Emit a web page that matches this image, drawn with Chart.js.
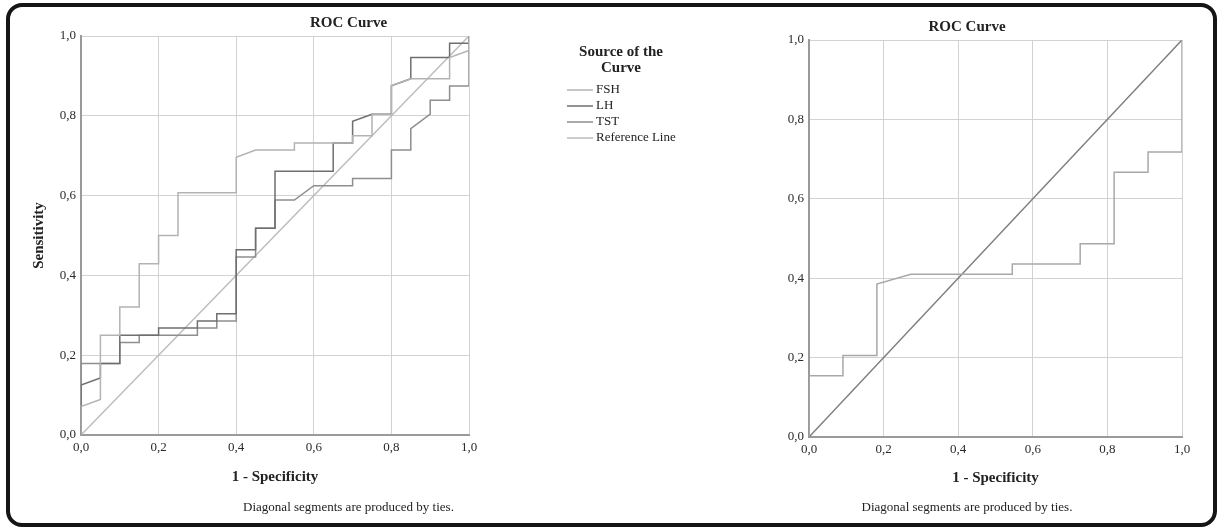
<!DOCTYPE html>
<html>
<head>
<meta charset="utf-8">
<script src="https://cdn.jsdelivr.net/npm/chart.js@4"></script>
<style>
    body { margin: 0; background: #fff; }
    #wrap { position: relative; width: 1217px; height: 527px; overflow: hidden; }
    #frame {
        position: absolute; left: 6px; top: 3px; width: 1211px; height: 524px;
        border: 4px solid #151515; border-radius: 16px; box-sizing: border-box;
    }
    #leftChart { position: absolute; left: 0; top: 0; }
    #rightChart { position: absolute; left: 717px; top: 0; }
</style>
</head>
<body>
<div id="wrap">
    <div id="frame"></div>
    <canvas id="leftChart" width="697" height="527"></canvas>
    <canvas id="rightChart" width="500" height="527"></canvas>
</div>
<script>
// tick labels (SPSS style, comma decimal)
const tickLabels = ['0,0', '0,2', '0,4', '0,6', '0,8', '1,0'];

// left panel: FSH, LH, TST
const fshX = [0, 0, 0.05, 0.05, 0.1, 0.1, 0.15, 0.15, 0.2, 0.2, 0.25, 0.25, 0.4, 0.4, 0.45, 0.55, 0.55, 0.7, 0.7, 0.75, 0.75, 0.8, 0.8, 0.85, 0.95, 0.95, 1, 1];
const fshY = [0, 0.071, 0.089, 0.25, 0.25, 0.321, 0.321, 0.429, 0.429, 0.5, 0.5, 0.607, 0.607, 0.696, 0.714, 0.714, 0.732, 0.732, 0.75, 0.75, 0.804, 0.804, 0.875, 0.893, 0.893, 0.946, 0.964, 1];

const lhX = [0, 0, 0.05, 0.05, 0.1, 0.1, 0.2, 0.2, 0.3, 0.3, 0.35, 0.35, 0.4, 0.4, 0.45, 0.45, 0.5, 0.5, 0.65, 0.65, 0.7, 0.7, 0.75, 0.8, 0.8, 0.85, 0.85, 0.95, 0.95, 1, 1];
const lhY = [0, 0.125, 0.143, 0.179, 0.179, 0.25, 0.25, 0.268, 0.268, 0.286, 0.286, 0.304, 0.304, 0.464, 0.464, 0.518, 0.518, 0.661, 0.661, 0.732, 0.732, 0.786, 0.804, 0.804, 0.875, 0.893, 0.946, 0.946, 0.982, 0.982, 1];

const tstX = [0, 0, 0.1, 0.1, 0.15, 0.15, 0.3, 0.3, 0.35, 0.35, 0.4, 0.4, 0.45, 0.45, 0.5, 0.5, 0.55, 0.6, 0.7, 0.7, 0.8, 0.8, 0.85, 0.85, 0.9, 0.9, 0.95, 0.95, 1, 1];
const tstY = [0, 0.179, 0.179, 0.232, 0.232, 0.25, 0.25, 0.268, 0.268, 0.286, 0.286, 0.446, 0.446, 0.518, 0.518, 0.589, 0.589, 0.625, 0.625, 0.643, 0.643, 0.714, 0.714, 0.768, 0.804, 0.839, 0.839, 0.875, 0.875, 1];

const refX = [0, 1];
const refY = [0, 1];

// right panel: single curve
const rightX = [0, 0, 0.091, 0.091, 0.182, 0.182, 0.273, 0.545, 0.545, 0.727, 0.727, 0.818, 0.818, 0.909, 0.909, 1, 1];
const rightY = [0, 0.154, 0.154, 0.205, 0.205, 0.385, 0.41, 0.41, 0.436, 0.436, 0.487, 0.487, 0.667, 0.667, 0.718, 0.718, 1];

const FONT = '"Liberation Serif", "DejaVu Serif", serif';

function toPoints(xs, ys) {
    return xs.map((x, i) => ({ x: x, y: ys[i] }));
}

function lineSet(label, xs, ys, color) {
    return {
        label: label,
        data: toPoints(xs, ys),
        showLine: true,
        borderColor: color,
        backgroundColor: color,
        borderWidth: 1.5,
        pointRadius: 0,
        tension: 0
    };
}

// title, footnote and (optionally) legend drawn as text on the canvas
const panelText = {
    id: 'panelText',
    afterDraw(chart, args, opts) {
        const ctx = chart.ctx;
        const cx = chart.width / 2;
        ctx.save();
        ctx.fillStyle = '#222';
        ctx.textAlign = 'center';
        ctx.textBaseline = 'middle';
        ctx.font = 'bold 15px ' + FONT;
        ctx.fillText(opts.title, cx, opts.titleY);
        ctx.font = '13px ' + FONT;
        ctx.fillText(opts.note, cx, opts.noteY);

        if (opts.legend) {
            const lg = opts.legend;
            ctx.font = 'bold 15px ' + FONT;
            lg.title.forEach((t, i) => ctx.fillText(t, lg.titleX, lg.titleY + i * 16));
            ctx.font = '13px ' + FONT;
            ctx.textAlign = 'left';
            chart.data.datasets.forEach((ds, i) => {
                const y = lg.itemY + i * 16;
                ctx.strokeStyle = ds.borderColor;
                ctx.lineWidth = 1.5;
                ctx.beginPath();
                ctx.moveTo(lg.lineX, y);
                ctx.lineTo(lg.lineX + 26, y);
                ctx.stroke();
                ctx.fillText(ds.label, lg.lineX + 29, y);
            });
        }
        ctx.restore();
    }
};

function axisOptions(opts) {
    return {
        type: 'linear',
        min: 0,
        max: 1,
        afterFit: opts.fit,
        border: { display: true, color: '#9a9a9a', width: 2 },
        grid: { color: '#d2d2d2', lineWidth: 1, drawTicks: false },
        ticks: {
            stepSize: 0.2,
            padding: 5,
            color: '#2a2a2a',
            font: { family: FONT, size: 13 },
            callback: (v) => tickLabels[Math.round(v * 5)]
        },
        title: opts.title
    };
}

function initLeftChart() {
    const ctx = document.getElementById('leftChart');
    new Chart(ctx, {
        type: 'scatter',
        data: {
            datasets: [
                lineSet('FSH', fshX, fshY, '#b3b3b3'),
                lineSet('LH', lhX, lhY, '#6f6f6f'),
                lineSet('TST', tstX, tstY, '#8e8e8e'),
                lineSet('Reference Line', refX, refY, '#bcbcbc')
            ]
        },
        plugins: [panelText],
        options: {
            responsive: false,
            animation: false,
            layout: { padding: { left: 6, top: 36, right: 228, bottom: 0 } },
            plugins: {
                legend: { display: false },
                tooltip: { enabled: false },
                panelText: {
                    title: 'ROC Curve',
                    titleY: 23,
                    note: 'Diagonal segments are produced by ties.',
                    noteY: 508,
                    legend: {
                        title: ['Source of the', 'Curve'],
                        titleX: 621,
                        titleY: 52,
                        lineX: 567,
                        itemY: 90
                    }
                }
            },
            scales: {
                x: axisOptions({
                    fit: (s) => { s.height = 92; },
                    title: {
                        display: true,
                        text: '1 - Specificity',
                        color: '#222',
                        font: { family: FONT, size: 15, weight: 'bold' },
                        padding: { top: 0, bottom: 41 }
                    }
                }),
                y: axisOptions({
                    fit: (s) => { s.width = 75; },
                    title: {
                        display: true,
                        text: 'Sensitivity',
                        color: '#222',
                        font: { family: FONT, size: 15, weight: 'bold' },
                        padding: { top: 24, bottom: 0 }
                    }
                })
            }
        }
    });
}

function initRightChart() {
    const ctx = document.getElementById('rightChart');
    new Chart(ctx, {
        type: 'scatter',
        data: {
            datasets: [
                lineSet('Curve', rightX, rightY, '#a8a8a8'),
                lineSet('Reference Line', refX, refY, '#7d7d7d')
            ]
        },
        plugins: [panelText],
        options: {
            responsive: false,
            animation: false,
            layout: { padding: { left: 0, top: 40, right: 35, bottom: 0 } },
            plugins: {
                legend: { display: false },
                tooltip: { enabled: false },
                panelText: {
                    title: 'ROC Curve',
                    titleY: 27,
                    note: 'Diagonal segments are produced by ties.',
                    noteY: 508
                }
            },
            scales: {
                x: axisOptions({
                    fit: (s) => { s.height = 90; },
                    title: {
                        display: true,
                        text: '1 - Specificity',
                        color: '#222',
                        font: { family: FONT, size: 15, weight: 'bold' },
                        padding: { top: 0, bottom: 40 }
                    }
                }),
                y: axisOptions({
                    fit: (s) => { s.width = 92; },
                    title: { display: false }
                })
            }
        }
    });
}

document.addEventListener('DOMContentLoaded', function() {
    initLeftChart();
    initRightChart();
});
</script>
</body>
</html>
